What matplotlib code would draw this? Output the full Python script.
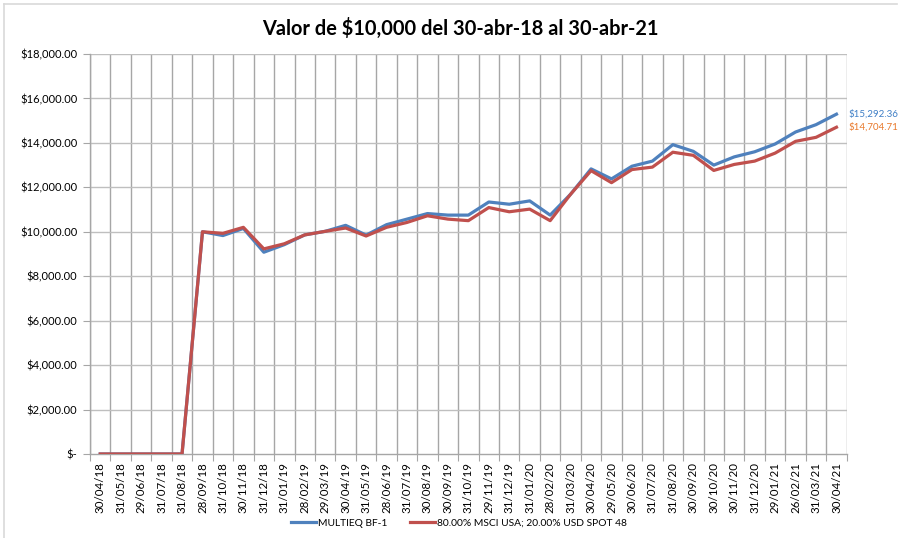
import matplotlib
matplotlib.use("Agg")
import matplotlib.pyplot as plt
from matplotlib.ticker import FuncFormatter, FixedLocator, MultipleLocator
from matplotlib.lines import Line2D

plt.rcParams['font.family'] = ['Lato', 'DejaVu Sans']

dates = ["30/04/18", "31/05/18", "29/06/18", "31/07/18", "31/08/18", "28/09/18",
         "31/10/18", "30/11/18", "31/12/18", "31/01/19", "28/02/19", "29/03/19",
         "30/04/19", "31/05/19", "28/06/19", "31/07/19", "30/08/19", "30/09/19",
         "31/10/19", "29/11/19", "31/12/19", "31/01/20", "28/02/20", "31/03/20",
         "30/04/20", "29/05/20", "30/06/20", "31/07/20", "31/08/20", "30/09/20",
         "30/10/20", "30/11/20", "31/12/20", "29/01/21", "26/02/21", "31/03/21",
         "30/04/21"]

multieq = [0, 0, 0, 0, 0, 10000, 9830, 10150, 9080, 9420, 9860, 10020,
           10290, 9850, 10320, 10570, 10820, 10750, 10750, 11340, 11240, 11390,
           10750, 11690, 12830, 12380, 12950, 13180, 13920, 13620, 13000, 13370,
           13600, 13950, 14490, 14820, 15292.36]

benchmark = [0, 0, 0, 0, 0, 10000, 9930, 10200, 9230, 9460, 9860, 10020,
             10170, 9810, 10200, 10420, 10720, 10570, 10500, 11090, 10900, 11020,
             10500, 11690, 12750, 12210, 12800, 12910, 13580, 13440, 12760, 13030,
             13180, 13540, 14070, 14250, 14704.71]

series_names = ["MULTIEQ BF-1", "80.00% MSCI USA; 20.00% USD SPOT 48"]
title = "Valor de $10,000 del 30-abr-18 al 30-abr-21"

blue = "#4F81BD"
red = "#C0504D"
grid_c = "#A6A6A6"

fig = plt.figure(figsize=(9.01, 5.38), dpi=100)
ax = fig.add_axes([90/901, (538-454)/538, (846.7-90)/901, (454-54)/538])

x = list(range(len(dates)))
ax.plot(x, multieq, color=blue, lw=2.3, solid_joinstyle='round', zorder=3)
ax.plot(x, benchmark, color=red, lw=2.3, solid_joinstyle='round', zorder=4)

ax.set_xlim(-0.5, len(dates) - 0.5)
ax.set_ylim(0, 18000)
ax.yaxis.set_major_locator(MultipleLocator(2000))

def yfmt(v, pos):
    if abs(v) < 1e-9:
        return "$-"
    return "${:,.2f}".format(v)

ax.yaxis.set_major_formatter(FuncFormatter(yfmt))
ax.set_xticks(x)
ax.set_xticklabels(dates, rotation=90, fontsize=8.3)
ax.tick_params(axis='x', which='major', length=0, pad=6)
ax.xaxis.set_minor_locator(FixedLocator([i - 0.5 for i in range(len(dates) + 1)]))
ax.tick_params(axis='x', which='minor', length=5, color=grid_c, width=0.8)
ax.tick_params(axis='y', length=5, color=grid_c, width=0.8, labelsize=8, pad=4)

ax.grid(False)
for v in range(2000, 18001, 2000):
    ax.axhline(v, color="#BFBFBF", lw=1.0, zorder=1)
ax.xaxis.grid(True, which='minor', color=grid_c, lw=1.0, zorder=1)
ax.set_axisbelow(True)

for s in ['top', 'right']:
    ax.spines[s].set_visible(False)
for s in ['left', 'bottom']:
    ax.spines[s].set_color(grid_c)
    ax.spines[s].set_linewidth(1.0)

# end-value labels
ax.annotate("${:,.2f}".format(multieq[-1]), xy=(x[-1], multieq[-1]),
            xytext=(9, 0), textcoords='offset points', color="#3F7FC6",
            fontsize=7, va='center', ha='left', annotation_clip=False)
ax.annotate("${:,.2f}".format(benchmark[-1]), xy=(x[-1], benchmark[-1]),
            xytext=(9, 0), textcoords='offset points', color="#E8782A",
            fontsize=7, va='center', ha='left', annotation_clip=False)

fig.text(460/901, 1 - 28/538, title, ha='center', va='center',
         fontsize=14.4, fontweight='bold', color='#000000')

handles = [Line2D([], [], color=blue, lw=2.3), Line2D([], [], color=red, lw=2.3)]
fig.legend(handles, series_names, loc='center', bbox_to_anchor=(459/901, 1 - 523/538),
           ncol=2, frameon=False, fontsize=7.4, handlelength=2.4, handletextpad=0.2,
           columnspacing=2.2)

# chart frame
fig.add_artist(Line2D([4/901, 4/901], [0, 1 - 4/538], color="#D9D9D9", lw=1.2,
                      transform=fig.transFigure))
fig.add_artist(Line2D([4/901, 897/901], [1 - 4/538, 1 - 4/538], color="#D9D9D9", lw=1.2,
                      transform=fig.transFigure))

fig.savefig("out.png", dpi=100)
